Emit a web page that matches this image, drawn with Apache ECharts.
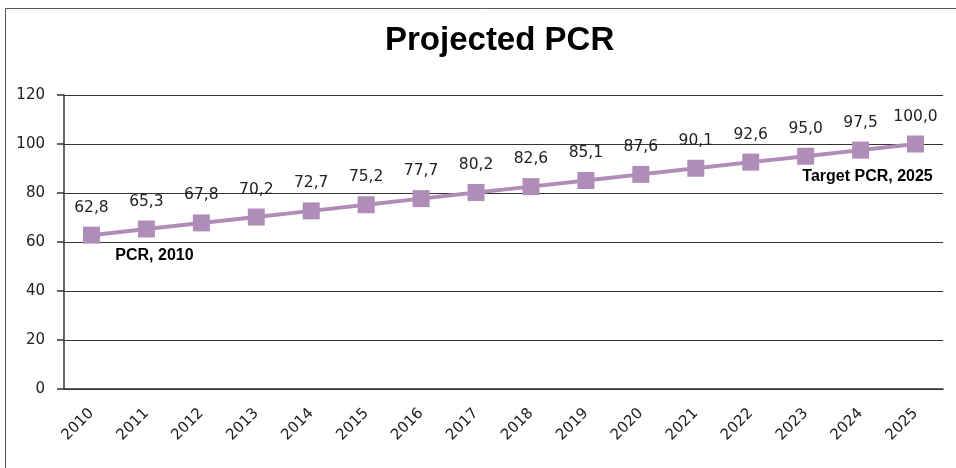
<!DOCTYPE html>
<html>
<head>
<meta charset="utf-8">
<script src="https://cdn.jsdelivr.net/npm/echarts@6/dist/echarts.min.js"></script>
<style>
  html, body { margin: 0; padding: 0; background: #fff; }
  #chart { width: 956px; height: 468px; }
</style>
</head>
<body>
<div id="chart"></div>
<script>
// data
var years = ['2010','2011','2012','2013','2014','2015','2016','2017',
             '2018','2019','2020','2021','2022','2023','2024','2025'];
var pcr = [62.8, 65.3, 67.8, 70.2, 72.7, 75.2, 77.7, 80.2,
           82.6, 85.1, 87.6, 90.1, 92.6, 95.0, 97.5, 100.0];
var yTicks = [0, 20, 40, 60, 80, 100, 120];
var notes = ['PCR, 2010', 'Target PCR, 2025'];

var purple = '#b08db8';
var font = '"Liberation Sans", Arial, sans-serif';
var labelFont = '"DejaVu Sans", Verdana, sans-serif';

var myChart = echarts.init(document.getElementById('chart'));
var option = {
  animation: false,
  title: {
    text: 'Projected PCR',
    left: 380,
    top: 19,
    textStyle: { fontFamily: font, fontSize: 33, fontWeight: 'bold', color: '#000' }
  },
  graphic: [{
    type: 'rect',
    shape: { x: 5.5, y: 8.5, width: 960, height: 470 },
    style: { fill: 'none', stroke: '#555', lineWidth: 1 },
    silent: true
  }],
  grid: { left: 64, right: 13, top: 95, bottom: 79 },
  xAxis: {
    type: 'category',
    data: years,
    boundaryGap: true,
    axisLine: { lineStyle: { color: '#333', width: 1.5 } },
    axisTick: { length: 7, lineStyle: { color: '#333', width: 1.5 } },
    axisLabel: { rotate: 45, margin: 22, fontFamily: labelFont, fontSize: 15, color: '#222' }
  },
  yAxis: {
    type: 'value',
    min: yTicks[0],
    max: yTicks[yTicks.length - 1],
    interval: 20,
    axisLine: { show: true, lineStyle: { color: '#333', width: 1.5 } },
    axisTick: { show: true, inside: false, length: 7, lineStyle: { color: '#333', width: 1.5 } },
    splitLine: { lineStyle: { color: '#333', width: 1.2 } },
    axisLabel: { margin: 19, fontFamily: labelFont, fontSize: 15, color: '#222' }
  },
  series: [{
    type: 'line',
    data: pcr,
    symbol: 'rect',
    symbolSize: 17,
    itemStyle: { color: purple },
    lineStyle: { color: purple, width: 4 },
    label: {
      show: true,
      position: 'top',
      distance: 11,
      fontFamily: labelFont,
      fontSize: 15.5,
      color: '#222',
      formatter: function (p) { return p.value.toFixed(1).replace('.', ','); }
    },
    markPoint: {
      symbol: 'circle',
      symbolSize: 2,
      silent: true,
      itemStyle: { color: 'rgba(0,0,0,0)' },
      label: { show: true, position: 'inside', fontFamily: font, fontSize: 16, fontWeight: 'bold', color: '#000' },
      data: [
        { coord: [years[0], pcr[0]], value: notes[0],
          label: { formatter: notes[0], offset: [63, 20] } },
        { coord: [years[15], pcr[15]], value: notes[1],
          label: { formatter: notes[1], offset: [-48, 33] } }
      ]
    }
  }]
};
myChart.setOption(option);
</script>
</body>
</html>
